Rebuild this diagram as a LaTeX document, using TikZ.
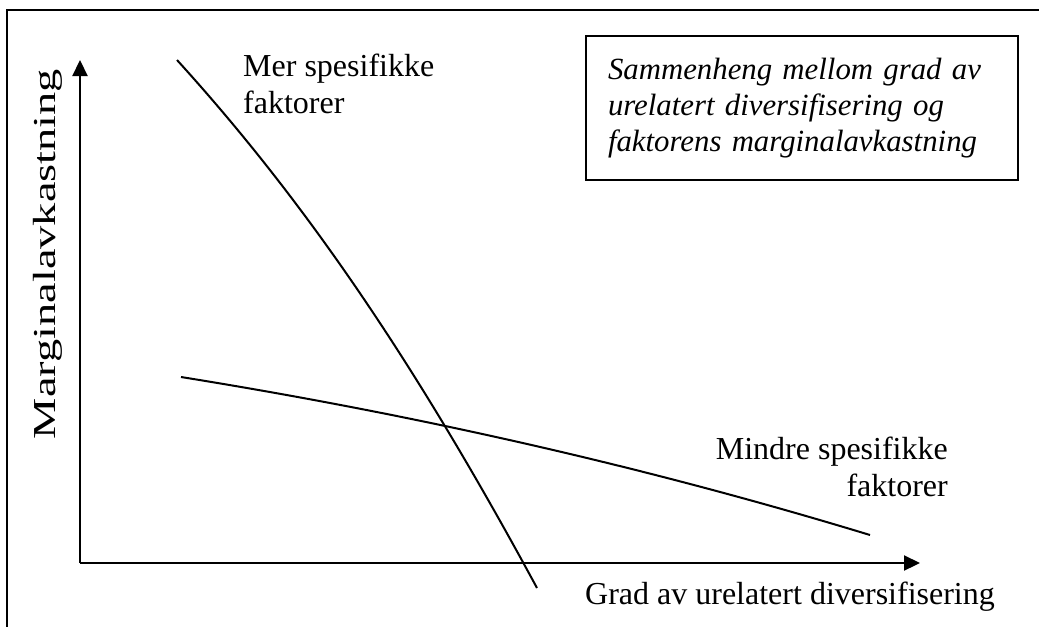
\documentclass[tikz,border=0pt]{standalone}
\usepackage{fontspec}
\setmainfont{Liberation Serif}
\usepackage{graphicx}
\usetikzlibrary{arrows.meta, positioning}

\begin{document}
\begin{tikzpicture}[
    x=1pt, y=-1pt,
    >={Triangle[width=15pt,length=16pt]},
    lbl/.style={font=\fontsize{32}{37}\selectfont, inner sep=0pt},
    frame/.style={line width=2pt},
    axis/.style={->, line width=2.2pt},
    curve/.style={line width=2pt},
    note/.style={draw, line width=2pt, font=\fontsize{30.8}{36}\selectfont\itshape, align=left, text width=388pt, inner xsep=22pt, inner ysep=0pt, minimum height=144pt},
  ]
  \useasboundingbox (0,0) rectangle (1039,627);
  % Frame (top and left edge only)
  \draw[frame] (1039,10) -- (7,10) -- (7,627);
  % Axes
  \coordinate (origin) at (80,563);
  \coordinate (ytip) at (80,60);
  \coordinate (xtip) at (920,563);
  \draw[axis] (origin) -- (ytip);
  \draw[axis] (origin) -- (xtip);
  \node[lbl, rotate=90, anchor=base] (ylab) at (55,254) {\scalebox{1.45}[1]{Marginalavkastning}};
  \node[lbl, anchor=base west] (xlab) at (585,604) {Grad av urelatert diversifisering};
  % Curves
  \draw[curve] (177,60) .. controls (307,203) and (417,366) .. (537,588);
  \draw[curve] (181,377) .. controls (411,414) and (640,465) .. (870,535);
  \node[lbl, align=left, anchor=north west] (mer) at (243,54) {Mer spesifikke\\faktorer};
  \node[lbl, align=right, anchor=north east] (mindre) at (948,437) {Mindre spesifikke\\faktorer};
  % Caption box
  \node[note, anchor=north west] (title) at (585,35) {Sammenheng mellom grad av\\urelatert diversifisering og\\faktorens marginalavkastning};
\end{tikzpicture}
\end{document}
